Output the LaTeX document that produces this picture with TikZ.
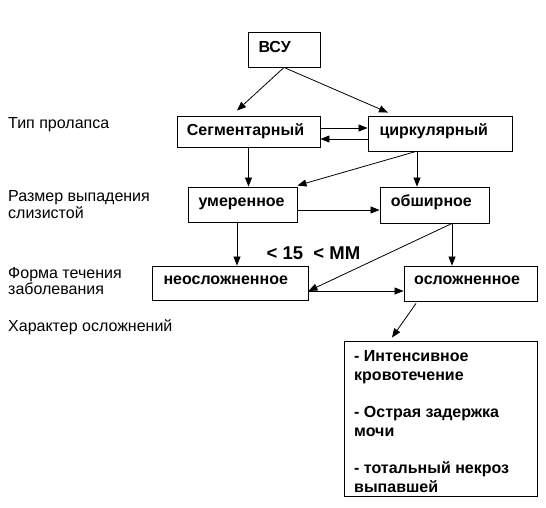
\documentclass[tikz,border=0pt]{standalone}
\usepackage{fontspec}
\setmainfont{Liberation Sans}
\usetikzlibrary{arrows.meta,calc}
\begin{document}
\begin{tikzpicture}[x=1pt,y=-1pt,
  box/.style={draw,line width=0.9pt,inner sep=0pt,rectangle},
  arr/.style={line width=0.8pt,-{Triangle[length=9pt,width=7pt]}},
  lbl/.style={anchor=base west,inner sep=0pt,font=\fontsize{16}{16.6}\selectfont},
  btxt/.style={anchor=base west,inner sep=0pt,font=\bfseries\fontsize{16}{18.7}\selectfont}]
\useasboundingbox[fill=white] (0,0) rectangle (546,508);

% boxes
\node[box,minimum width=72pt,minimum height=35pt] (vsu) at (284,49.5) {};
\node[box,minimum width=143pt,minimum height=31pt] (seg) at (248.5,131.5) {};
\node[box,minimum width=144pt,minimum height=35pt] (cir) at (440,133.5) {};
\node[box,minimum width=109pt,minimum height=35pt] (ume) at (242.5,204.5) {};
\node[box,minimum width=109pt,minimum height=36pt] (obs) at (434.5,205) {};
\node[box,minimum width=156pt,minimum height=34pt] (neo) at (230,283) {};
\node[box,minimum width=133pt,minimum height=35pt] (osl) at (470.5,283.5) {};
\node[box,minimum width=193pt,minimum height=155pt] (big) at (440.5,418.5) {};

% box texts
\node[btxt] (tvsu) at (258.3,52.3) {ВСУ};
\node[btxt] (tseg) at (186.7,135.3) {Сегментарный};
\node[btxt] (tcir) at (379.3,135.5) {циркулярный};
\node[btxt] (tume) at (198.3,206.7) {умеренное};
\node[btxt] (tobs) at (390.7,206.7) {обширное};
\node[btxt] (tneo) at (163.3,284) {неосложненное};
\node[btxt] (tosl) at (414,284) {осложненное};
\node[btxt] (tbig) at (354,361.7) {\parbox[t]{180pt}{\raggedright - Интенсивное\\кровотечение\\[18.7pt]- Острая задержка\\мочи\\[18.7pt]- тотальный некроз\\выпавшей}};
\node[anchor=base west,inner sep=0pt,font=\bfseries\fontsize{18.5}{20}\selectfont] (size) at (266.5,259) {<\ 15\ \ <\ ММ};

% left labels
\node[lbl] (l1) at (8,129) {Тип пролапса};
\node[lbl] (l2) at (8,201.7) {\parbox[t]{170pt}{Размер выпадения\\слизистой}};
\node[lbl] (l3) at (8,278.3) {\parbox[t]{170pt}{Форма течения\\заболевания}};
\node[lbl] (l4) at (8,331) {Характер осложнений};

% connectors
\draw[arr] (vsu.south) -- ([xshift=-11.5pt,yshift=5pt]seg.north);
\draw[arr] (vsu.south) -- ([xshift=-52pt,yshift=3pt]cir.north);
\draw[arr] ([yshift=3.5pt]seg.east) -- ([yshift=3.5pt]seg.east -| cir.west);
\draw[arr] ([yshift=-7.5pt]seg.east -| cir.west) -- ([yshift=-7.5pt]seg.east);
\draw[arr] (seg.south) -- (seg.south |- ume.north);
\draw[arr] ([xshift=-24pt]cir.south) -- ([yshift=1pt]ume.north east);
\draw[arr] ([xshift=-23pt]cir.south) -- ([xshift=-23pt]cir.south |- obs.north);
\draw[arr] ([yshift=-5.5pt]ume.east) -- ([yshift=-5.5pt]ume.east -| obs.west);
\draw[arr] ([xshift=-5.5pt]ume.south) -- ([xshift=-5.5pt]ume.south |- neo.north);
\draw[arr] ([xshift=17.5pt]obs.south) -- ([xshift=17.5pt]obs.south |- osl.north);
\draw[arr] ([xshift=17.5pt]obs.south) -- ([yshift=-8pt]neo.east);
\draw[arr] ([yshift=-8pt]neo.east) -- ([yshift=-8pt]neo.east -| osl.west);
\draw[arr] ([xshift=-54.5pt,yshift=-2pt]osl.south) -- ([xshift=-48.5pt,yshift=3pt]big.north);
\end{tikzpicture}
\end{document}
